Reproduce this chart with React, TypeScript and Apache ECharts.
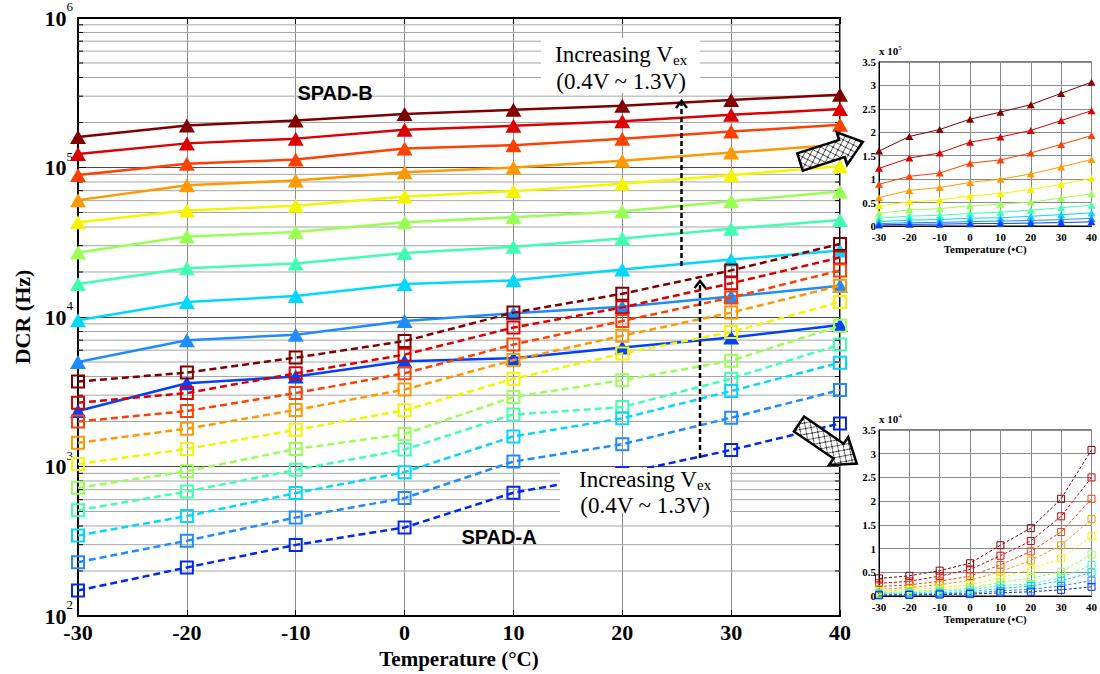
import React, { useEffect, useRef } from "react";
import * as echarts from "echarts";

const SERIF = '"Liberation Serif", "Times New Roman", Times, serif';
const SANS = '"Liberation Sans", Arial, Helvetica, sans-serif';

// Temperature sweep (°C)
const temps = [-30, -20, -10, 0, 10, 20, 30, 40];

// SPAD-B dark count rate (Hz), one array per excess voltage
const spadB_13V = [160000, 191000, 206000, 228000, 243000, 259000, 283000, 307000];
const spadB_12V = [123000, 145000, 156000, 179000, 190000, 204000, 225000, 246000];
const spadB_11V = [89000, 106000, 113000, 134000, 141000, 156000, 174000, 193000];
const spadB_10V = [60500, 76000, 82000, 93000, 100000, 111000, 126000, 142000];
const spadB_09V = [43000, 51500, 55500, 64000, 69500, 78000, 89000, 102000];
const spadB_08V = [27000, 34500, 37000, 43000, 46500, 51000, 59500, 69000];
const spadB_07V = [16600, 21200, 22800, 26800, 29500, 33500, 39000, 44500];
const spadB_06V = [9500, 12600, 13800, 16600, 17600, 20800, 24200, 27900];
const spadB_05V = [5000, 7000, 7600, 9400, 10600, 11700, 13700, 16200];
const spadB_04V = [2350, 3600, 4000, 5050, 5300, 6250, 7300, 8850];

// SPAD-A dark count rate (Hz), one array per excess voltage
const spadA_13V = [3700, 4250, 5350, 6900, 10700, 14300, 20500, 30800];
const spadA_12V = [2670, 3100, 4200, 5600, 8500, 11600, 16800, 25000];
const spadA_11V = [2000, 2350, 3100, 4200, 6550, 9400, 13500, 20500];
const spadA_10V = [1440, 1790, 2390, 3270, 5150, 7500, 10700, 16200];
const spadA_09V = [1040, 1310, 1760, 2380, 3860, 5700, 7950, 12600];
const spadA_08V = [720, 930, 1310, 1650, 2920, 3780, 5100, 8750];
const spadA_07V = [510, 680, 950, 1300, 2230, 2500, 3870, 6550];
const spadA_06V = [346, 466, 665, 917, 1590, 2100, 3200, 4950];
const spadA_05V = [229, 319, 456, 615, 1080, 1410, 2120, 3250];
const spadA_04V = [148, 211, 299, 391, 668, 900, 1290, 1940];

const spadB = [spadB_13V, spadB_12V, spadB_11V, spadB_10V, spadB_09V, spadB_08V, spadB_07V, spadB_06V, spadB_05V, spadB_04V];
const spadA = [spadA_13V, spadA_12V, spadA_11V, spadA_10V, spadA_09V, spadA_08V, spadA_07V, spadA_06V, spadA_05V, spadA_04V];
const vexLabels = ["1.3V", "1.2V", "1.1V", "1.0V", "0.9V", "0.8V", "0.7V", "0.6V", "0.5V", "0.4V"];

// Colours from high to low excess voltage
const coloursB = ["#800000", "#DD0000", "#FF4000", "#FF9900", "#F5F500", "#99FF55", "#40FFB0", "#00D8FF", "#1E8CFF", "#0040FF"];
const coloursA = ["#800000", "#DD0000", "#FF4000", "#FF9900", "#F5F500", "#99FF55", "#40FFB0", "#00D8FF", "#1E8CFF", "#0028F0"];

// Minor log grid levels (2..9 × 10^k)
const minorLevels = [
  200, 300, 400, 500, 600, 700, 800, 900,
  2000, 3000, 4000, 5000, 6000, 7000, 8000, 9000,
  20000, 30000, 40000, 50000, 60000, 70000, 80000, 90000,
  200000, 300000, 400000, 500000, 600000, 700000, 800000, 900000,
];

function makeHatch(): string {
  const c = document.createElement("canvas");
  c.width = 8;
  c.height = 8;
  const g = c.getContext("2d");
  if (!g) return "";
  g.fillStyle = "#fff";
  g.fillRect(0, 0, 8, 8);
  g.strokeStyle = "#333";
  g.lineWidth = 1;
  g.beginPath();
  g.moveTo(0, 0);
  g.lineTo(8, 8);
  g.moveTo(8, 0);
  g.lineTo(0, 8);
  g.stroke();
  return c.toDataURL();
}

function insetXAxis(gridIndex: number) {
  return {
    gridIndex,
    type: "value",
    min: -30,
    max: 40,
    interval: 10,
    axisLine: { show: true, onZero: false, lineStyle: { color: "#000", width: 1 } },
    axisTick: { show: false },
    axisLabel: { color: "#000", fontFamily: SERIF, fontWeight: "bold", fontSize: 11, margin: 5 },
    splitLine: { show: true, lineStyle: { color: "#8a8a8a", width: 1 } },
    name: "Temperature (•C)",
    nameLocation: "middle",
    nameGap: 17,
    nameTextStyle: { color: "#000", fontFamily: SERIF, fontWeight: "bold", fontSize: 11 },
  };
}

function insetYAxis(gridIndex: number, scale: number, exp: number) {
  return {
    gridIndex,
    type: "value",
    min: 0,
    max: 3.5 * scale,
    interval: 0.5 * scale,
    axisLine: { show: true, onZero: false, lineStyle: { color: "#000", width: 1 } },
    axisTick: { show: false },
    axisLabel: {
      color: "#000",
      fontFamily: SERIF,
      fontWeight: "bold",
      fontSize: 11,
      margin: 3,
      formatter: (v: number) => String(Math.round((v / scale) * 10) / 10),
    },
    splitLine: { show: true, lineStyle: { color: "#8a8a8a", width: 1 } },
    name: `{a|x 10}{b|${exp}}`,
    nameLocation: "end",
    nameGap: 3,
    nameTextStyle: {
      align: "left",
      rich: {
        a: { fontFamily: SERIF, fontWeight: "bold", fontSize: 11, color: "#000", lineHeight: 14 },
        b: { fontFamily: SERIF, fontSize: 7, color: "#000", verticalAlign: "top", lineHeight: 8 },
      },
    },
  };
}

function buildOption() {
  const hatch = makeHatch();
  const hatchFill = { image: hatch, repeat: "repeat", imageWidth: 8, imageHeight: 8 };

  const series: any[] = [];

  // minor log gridlines of the main chart
  series.push({
    type: "custom",
    xAxisIndex: 0,
    yAxisIndex: 0,
    silent: true,
    z: 1,
    clip: false,
    data: minorLevels.map((v) => [-30, v]),
    encode: { x: 0, y: 1 },
    renderItem: (_p: any, api: any) => {
      const v = api.value(1);
      const a = api.coord([-30, v]);
      const b = api.coord([40, v]);
      return {
        type: "group",
        children: [
          { type: "line", shape: { x1: a[0], y1: a[1], x2: b[0], y2: b[1] }, style: { stroke: "#a6a6a6", lineWidth: 1 } },
          { type: "line", shape: { x1: a[0], y1: a[1], x2: a[0] + 5, y2: a[1] }, style: { stroke: "#000", lineWidth: 1 } },
          { type: "line", shape: { x1: b[0] - 5, y1: b[1], x2: b[0], y2: b[1] }, style: { stroke: "#000", lineWidth: 1 } },
        ],
      };
    },
  });

  spadB.forEach((arr, k) => {
    const c = coloursB[k];
    series.push({
      name: `SPAD-B ${vexLabels[k]}`,
      type: "line",
      xAxisIndex: 0,
      yAxisIndex: 0,
      silent: true,
      z: 3,
      data: temps.map((t, i) => [t, arr[i]]),
      symbol: "triangle",
      symbolSize: [16, 14],
      itemStyle: { color: c },
      lineStyle: { color: c, width: 2.5 },
    });
    series.push({
      name: `SPAD-B inset ${vexLabels[k]}`,
      type: "line",
      xAxisIndex: 2,
      yAxisIndex: 1,
      silent: true,
      z: 3,
      data: temps.map((t, i) => [t, arr[i]]),
      symbol: "triangle",
      symbolSize: [8, 7],
      itemStyle: { color: c },
      lineStyle: { color: c, width: 1 },
    });
  });

  spadA.forEach((arr, k) => {
    const c = coloursA[k];
    series.push({
      name: `SPAD-A ${vexLabels[k]}`,
      type: "line",
      xAxisIndex: 0,
      yAxisIndex: 0,
      silent: true,
      z: 4,
      data: temps.map((t, i) => [t, arr[i]]),
      symbol: "rect",
      symbolSize: 12,
      itemStyle: { color: "rgba(255,255,255,0)", borderColor: c, borderWidth: 2 },
      lineStyle: { color: c, width: 2.5, type: [7, 4] },
    });
    series.push({
      name: `SPAD-A inset ${vexLabels[k]}`,
      type: "line",
      xAxisIndex: 3,
      yAxisIndex: 2,
      silent: true,
      z: 4,
      data: temps.map((t, i) => [t, arr[i]]),
      symbol: "rect",
      symbolSize: 7,
      itemStyle: { color: "rgba(255,255,255,0)", borderColor: c, borderWidth: 1 },
      lineStyle: { color: c, width: 1, type: [3, 2] },
    });
  });

  const arrowShape = (len: number) => {
    const body = len - 22;
    return [[0, -9], [body, -9], [body, -17], [len, 0], [body, 17], [body, 9], [0, 9]];
  };

  const noteText = (cx: number, y1: number, y2: number) => [
    {
      type: "text",
      z: 101,
      x: cx,
      y: y1,
      style: {
        text: "{m|Increasing V}{s|ex}",
        align: "center",
        verticalAlign: "middle",
        rich: {
          m: { fontFamily: SERIF, fontSize: 23, fill: "#000", lineHeight: 26 },
          s: { fontFamily: SERIF, fontSize: 15, fill: "#000", verticalAlign: "bottom", lineHeight: 16 },
        },
      },
    },
    {
      type: "text",
      z: 101,
      x: cx,
      y: y2,
      style: { text: "(0.4V ~ 1.3V)", font: `23px ${SERIF}`, fill: "#000", align: "center", verticalAlign: "middle" },
    },
  ];

  const graphic = [
    // label boxes
    { type: "rect", z: 100, shape: { x: 541, y: 38, width: 159, height: 55 }, style: { fill: "#fff" } },
    ...noteText(621, 54, 81),
    { type: "rect", z: 100, shape: { x: 560, y: 468, width: 170, height: 45 }, style: { fill: "#fff" } },
    ...noteText(645, 479, 505),
    // dotted arrows
    { type: "line", z: 90, shape: { x1: 681.5, y1: 266, x2: 681.5, y2: 102 }, style: { stroke: "#000", lineWidth: 2.5, lineDash: [5, 3] } },
    { type: "polyline", z: 90, shape: { points: [[676, 108], [681.5, 101], [687, 108]] }, style: { stroke: "#000", lineWidth: 2.5, fill: null } },
    { type: "line", z: 90, shape: { x1: 700, y1: 458, x2: 700, y2: 282 }, style: { stroke: "#000", lineWidth: 2.5, lineDash: [5, 3] } },
    { type: "polyline", z: 90, shape: { points: [[694.5, 288], [700, 281], [705.5, 288]] }, style: { stroke: "#000", lineWidth: 2.5, fill: null } },
    // SPAD labels
    { type: "text", z: 95, x: 335, y: 93, style: { text: "SPAD-B", font: `bold 20px ${SANS}`, fill: "#000", align: "center", verticalAlign: "middle" } },
    { type: "text", z: 95, x: 499, y: 537, style: { text: "SPAD-A", font: `bold 20px ${SANS}`, fill: "#000", align: "center", verticalAlign: "middle" } },
    // hatched pointers to the insets
    { type: "polygon", z: 110, x: 800, y: 162, rotation: 0.31, shape: { points: arrowShape(66) }, style: { fill: hatchFill, stroke: "#000", lineWidth: 2.5 } },
    { type: "polygon", z: 110, x: 799, y: 424, rotation: -0.6, shape: { points: arrowShape(70) }, style: { fill: hatchFill, stroke: "#000", lineWidth: 2.5 } },
  ];

  return {
    animation: false,
    backgroundColor: "#fff",
    grid: [
      { left: 78, top: 18, width: 762, height: 602, show: true, borderColor: "#000", borderWidth: 2, backgroundColor: "rgba(0,0,0,0)" },
      { left: 879, top: 62, width: 220, height: 164, show: true, borderColor: "#000", borderWidth: 1, backgroundColor: "rgba(0,0,0,0)" },
      { left: 879, top: 430, width: 220, height: 166, show: true, borderColor: "#000", borderWidth: 1, backgroundColor: "rgba(0,0,0,0)" },
    ],
    xAxis: [
      {
        gridIndex: 0,
        type: "value",
        min: -30,
        max: 40,
        interval: 10,
        position: "bottom",
        axisLine: { show: true, onZero: false, lineStyle: { color: "#000", width: 2 } },
        axisTick: { show: true, inside: true, length: 6, lineStyle: { color: "#000", width: 1 } },
        axisLabel: { color: "#000", fontFamily: SERIF, fontWeight: "bold", fontSize: 22, margin: 5 },
        splitLine: { show: true, lineStyle: { color: "#8c8c8c", width: 1 } },
        name: "Temperature (°C)",
        nameLocation: "middle",
        nameGap: 32,
        nameTextStyle: { color: "#000", fontFamily: SERIF, fontWeight: "bold", fontSize: 21 },
      },
      {
        gridIndex: 0,
        type: "value",
        min: -30,
        max: 40,
        interval: 10,
        position: "top",
        axisLine: { show: true, onZero: false, lineStyle: { color: "#000", width: 2 } },
        axisTick: { show: true, inside: true, length: 6, lineStyle: { color: "#000", width: 1 } },
        axisLabel: { show: false },
        splitLine: { show: false },
      },
      insetXAxis(1),
      insetXAxis(2),
    ],
    yAxis: [
      {
        gridIndex: 0,
        type: "log",
        logBase: 10,
        min: 100,
        max: 1000000,
        axisLine: { show: true, onZero: false, lineStyle: { color: "#000", width: 2 } },
        axisTick: { show: true, inside: true, length: 8, lineStyle: { color: "#000", width: 1 } },
        axisLabel: {
          margin: 5,
          formatter: (v: number) => `{a|10}{b|${Math.round(Math.log10(v))}}`,
          rich: {
            a: { fontFamily: SERIF, fontWeight: "bold", fontSize: 22, color: "#000", lineHeight: 36 },
            b: { fontFamily: SERIF, fontSize: 13, color: "#000", verticalAlign: "top", lineHeight: 14 },
          },
        },
        splitLine: { show: true, lineStyle: { color: "#4a4a4a", width: 1 } },
        name: "DCR (Hz)",
        nameLocation: "middle",
        nameRotate: 90,
        nameGap: 38,
        nameTextStyle: { color: "#000", fontFamily: SERIF, fontWeight: "bold", fontSize: 22 },
      },
      insetYAxis(1, 100000, 5),
      insetYAxis(2, 10000, 4),
    ],
    series,
    graphic: { elements: graphic },
  };
}

export default function App() {
  const ref = useRef<HTMLDivElement>(null);
  useEffect(() => {
    document.body.style.margin = "0";
    if (!ref.current) return;
    const chart = echarts.init(ref.current, undefined, { renderer: "svg" });
    chart.setOption(buildOption() as any);
    return () => chart.dispose();
  }, []);
  return <div ref={ref} style={{ width: 1100, height: 674, background: "#fff" }} />;
}
